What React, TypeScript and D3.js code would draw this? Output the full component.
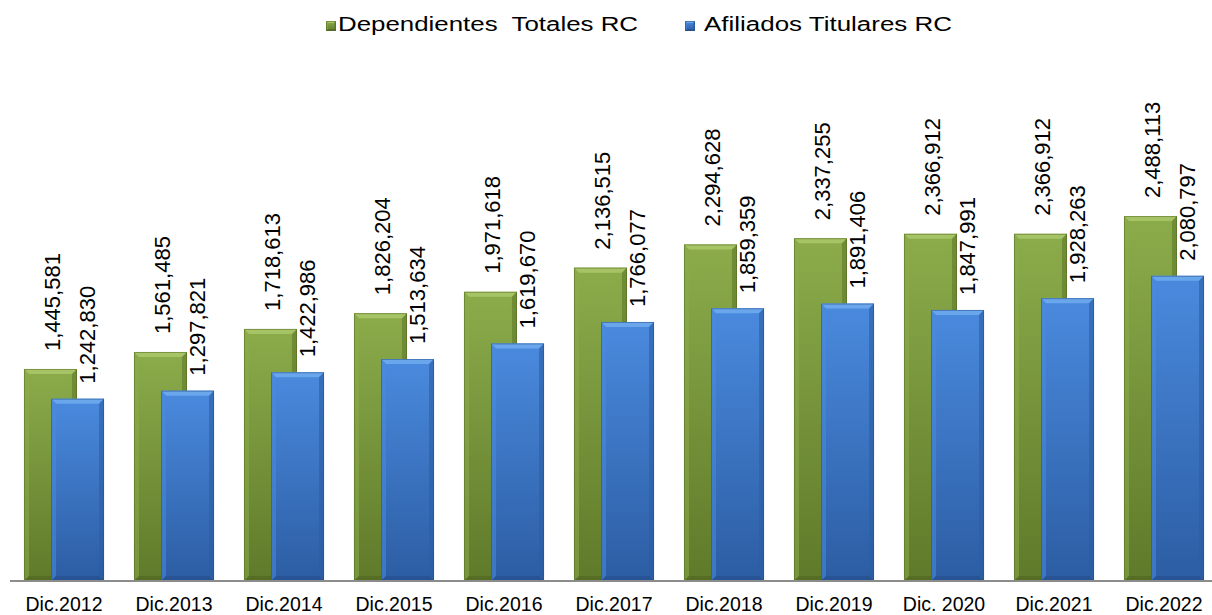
import React, { useEffect, useRef } from "react";
import * as d3 from "d3";

const categories = [
  "Dic.2012", "Dic.2013", "Dic.2014", "Dic.2015", "Dic.2016", "Dic.2017",
  "Dic.2018", "Dic.2019", "Dic. 2020", "Dic.2021", "Dic.2022",
];
const dependientes = [
  1445581, 1561485, 1718613, 1826204, 1971618, 2136515,
  2294628, 2337255, 2366912, 2366912, 2488113,
];
const afiliados = [
  1242830, 1297821, 1422986, 1513634, 1619670, 1766077,
  1859359, 1891406, 1847991, 1928263, 2080797,
];
const seriesNames = ["Dependientes  Totales RC", "Afiliados Titulares RC"];

const W = 1212;
const H = 615;
const FONT = "Arial, 'Liberation Sans', sans-serif";

const palette = {
  green: { top: "#a6c466", light: "#8cac4b", body: "#7b9a3b", dark: "#5f7a2a", edge: "#4f6622" },
  blue: { top: "#6aa6ec", light: "#4a8ade", body: "#3a76c9", dark: "#2c5da3", edge: "#244d8a" },
};

const App = () => {
  const svgRef = useRef<SVGSVGElement>(null);

  useEffect(() => {
    const svg = d3.select(svgRef.current);
    svg.selectAll("*").remove();

    const baseY = 581;
    const x = d3.scaleBand<string>().domain(categories).range([9, 1219]).padding(0);
    const y = d3.scaleLinear().domain([0, 3000000]).range([baseY, 141]);

    const bw = x.bandwidth();
    const barW = bw * 0.482;
    const shift = barW * 0.51;
    const groupW = barW + shift;

    const defs = svg.append("defs");
    (["green", "blue"] as const).forEach((k) => {
      const c = palette[k];
      const g = defs.append("linearGradient").attr("id", `grad-${k}`)
        .attr("x1", 0).attr("y1", 0).attr("x2", 0).attr("y2", 1);
      g.append("stop").attr("offset", "0%").attr("stop-color", c.light);
      g.append("stop").attr("offset", "100%").attr("stop-color", c.dark);
    });

    const bevelBar = (
      parent: d3.Selection<SVGGElement, unknown, null, undefined>,
      bx: number, by: number, w: number, h: number, k: "green" | "blue", b: number
    ) => {
      const c = palette[k];
      const g = parent.append("g");
      g.append("rect").attr("x", bx).attr("y", by).attr("width", w).attr("height", h)
        .attr("fill", `url(#grad-${k})`);
      // top facet
      g.append("polygon")
        .attr("points", [[bx, by], [bx + w, by], [bx + w - b, by + b], [bx + b, by + b]].map((p) => p.join(",")).join(" "))
        .attr("fill", c.top);
      // left facet
      g.append("polygon")
        .attr("points", [[bx, by], [bx + b, by + b], [bx + b, by + h - b], [bx, by + h]].map((p) => p.join(",")).join(" "))
        .attr("fill", c.light).attr("opacity", 0.55);
      // right facet
      g.append("polygon")
        .attr("points", [[bx + w, by], [bx + w - b, by + b], [bx + w - b, by + h - b], [bx + w, by + h]].map((p) => p.join(",")).join(" "))
        .attr("fill", c.dark).attr("opacity", 0.6);
      // bottom facet
      g.append("polygon")
        .attr("points", [[bx, by + h], [bx + b, by + h - b], [bx + w - b, by + h - b], [bx + w, by + h]].map((p) => p.join(",")).join(" "))
        .attr("fill", c.edge).attr("opacity", 0.6);
      g.append("rect").attr("x", bx + 0.5).attr("y", by + 0.5).attr("width", w - 1).attr("height", h - 1)
        .attr("fill", "none").attr("stroke", c.edge).attr("stroke-opacity", 0.5);
    };

    const bars = svg.append("g");
    categories.forEach((cat, i) => {
      const gx = (x(cat) as number) + (bw - groupW) / 2;
      const yg = y(dependientes[i]);
      bevelBar(bars, gx, yg, barW, baseY - yg, "green", 5);
    });
    categories.forEach((cat, i) => {
      const gx = (x(cat) as number) + (bw - groupW) / 2 + shift;
      const yb = y(afiliados[i]);
      bevelBar(bars, gx, yb, barW, baseY - yb, "blue", 5);
    });

    const fmt = d3.format(",");
    const labels = svg.append("g").attr("font-family", FONT).attr("font-size", 22).attr("fill", "#000");
    categories.forEach((cat, i) => {
      const gx = (x(cat) as number) + (bw - groupW) / 2;
      const cx = gx + barW / 2 + 2;
      const cy = y(dependientes[i]) - 18;
      labels.append("text").attr("transform", `translate(${cx},${cy}) rotate(-90)`)
        .attr("dy", "0.35em").text(fmt(dependientes[i]));
      const bx = gx + shift + barW / 2 + 10;
      const by = y(afiliados[i]) - 15;
      labels.append("text").attr("transform", `translate(${bx},${by}) rotate(-90)`)
        .attr("dy", "0.35em").text(fmt(afiliados[i]));
    });

    // axis
    const axis = svg.append("g").attr("transform", `translate(0,${baseY})`)
      .call(d3.axisBottom(x).tickSize(0).tickPadding(16));
    axis.select(".domain").attr("stroke", "#8c8c8c").attr("stroke-width", 2)
      .attr("d", `M10,0H${W}`);
    axis.selectAll("text").attr("font-family", FONT).attr("font-size", 19.5).attr("fill", "#000");

    // legend
    const legend = svg.append("g").attr("font-family", FONT).attr("font-size", 19.5);
    const items = [
      { name: seriesNames[0], k: "green" as const, sx: 326, tx: 338, len: 300 },
      { name: seriesNames[1], k: "blue" as const, sx: 685, tx: 704, len: 248 },
    ];
    items.forEach((it) => {
      bevelBar(legend as any, it.sx, 21, 10, 10, it.k, 2);
      legend.append("text").attr("x", it.tx).attr("y", 31)
        .attr("textLength", it.len).attr("lengthAdjust", "spacingAndGlyphs")
        .style("white-space", "pre").text(it.name);
    });
  }, []);

  return (
    <div style={{ position: "absolute", left: 0, top: 0, width: W, height: H, background: "#fff" }}>
      <svg ref={svgRef} width={W} height={H}></svg>
    </div>
  );
};

export default App;
